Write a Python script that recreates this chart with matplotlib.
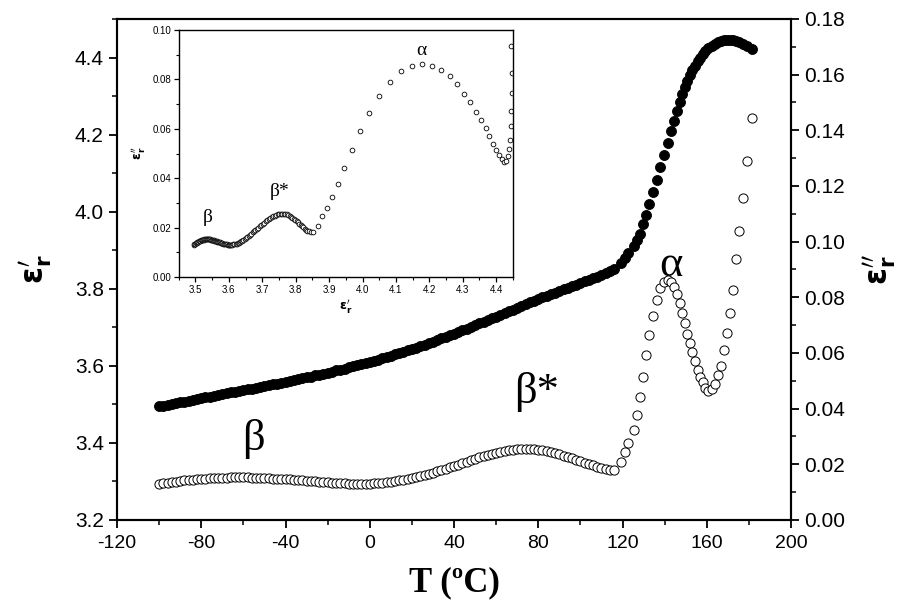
import numpy as np
import matplotlib.pyplot as plt
from matplotlib.ticker import MultipleLocator, FormatStrFormatter

# temperature scan (ºC)
temp = [-100, -98, -96, -94, -92, -90, -88, -86, -84, -82,
        -80, -78, -76, -74, -72, -70, -68, -66, -64, -62,
        -60, -58, -56, -54, -52, -50, -48, -46, -44, -42,
        -40, -38, -36, -34, -32, -30, -28, -26, -24, -22,
        -20, -18, -16, -14, -12, -10, -8, -6, -4, -2,
        0, 2, 4, 6, 8, 10, 12, 14, 16, 18,
        20, 22, 24, 26, 28, 30, 32, 34, 36, 38,
        40, 42, 44, 46, 48, 50, 52, 54, 56, 58,
        60, 62, 64, 66, 68, 70, 72, 74, 76, 78,
        80, 82, 84, 86, 88, 90, 92, 94, 96, 98,
        100, 102, 104, 106, 108, 110, 112, 114, 116,
        119.5, 121.0, 122.5, 125.3, 127.0, 128.2, 129.6, 131.2, 132.8, 134.4,
        136.2, 137.9, 139.6, 141.4, 143.0, 144.4, 145.8, 147.1, 148.4, 149.6,
        150.8, 152.0, 153.2, 154.4, 155.6, 156.8, 158.0, 159.3, 160.7, 162.3,
        163.9, 165.4, 166.8, 168.3, 169.7, 171.0, 172.4, 173.8, 175.4, 177.1,
        179.1, 181.5]

# real permittivity eps_r'
eps_real = [3.495, 3.497, 3.499, 3.501, 3.503, 3.505, 3.507, 3.510, 3.512, 3.514,
            3.516, 3.518, 3.520, 3.522, 3.524, 3.526, 3.529, 3.531, 3.533, 3.535,
            3.537, 3.539, 3.541, 3.543, 3.545, 3.547, 3.549, 3.552, 3.554, 3.556,
            3.558, 3.560, 3.563, 3.565, 3.568, 3.570, 3.572, 3.575, 3.577, 3.580,
            3.582, 3.585, 3.588, 3.590, 3.593, 3.596, 3.599, 3.601, 3.604, 3.607,
            3.610, 3.613, 3.616, 3.620, 3.623, 3.626, 3.630, 3.633, 3.636, 3.640,
            3.643, 3.647, 3.651, 3.655, 3.659, 3.663, 3.667, 3.671, 3.675, 3.679,
            3.683, 3.687, 3.692, 3.696, 3.701, 3.705, 3.710, 3.714, 3.719, 3.723,
            3.728, 3.733, 3.737, 3.742, 3.746, 3.751, 3.756, 3.760, 3.765, 3.769,
            3.774, 3.778, 3.782, 3.786, 3.790, 3.795, 3.799, 3.803, 3.807, 3.811,
            3.815, 3.819, 3.823, 3.827, 3.831, 3.835, 3.840, 3.846, 3.852,
            3.866, 3.880, 3.893, 3.910, 3.926, 3.943, 3.967, 3.991, 4.020, 4.050,
            4.083, 4.115, 4.147, 4.178, 4.209, 4.236, 4.262, 4.284, 4.305, 4.323,
            4.340, 4.355, 4.368, 4.379, 4.390, 4.400, 4.408, 4.417, 4.424, 4.430,
            4.435, 4.439, 4.442, 4.445, 4.445, 4.446, 4.446, 4.443, 4.440, 4.436,
            4.430, 4.423]

# loss eps_r''
eps_imag = [0.0130, 0.0132, 0.0134, 0.0136, 0.0138, 0.0140, 0.0142, 0.0144, 0.0145, 0.0147,
            0.0148, 0.0149, 0.0150, 0.0151, 0.0151, 0.0152, 0.0152, 0.0153, 0.0153, 0.0153,
            0.0153, 0.0153, 0.0152, 0.0152, 0.0151, 0.0151, 0.0150, 0.0149, 0.0148, 0.0147,
            0.0147, 0.0146, 0.0144, 0.0143, 0.0142, 0.0141, 0.0140, 0.0139, 0.0137, 0.0136,
            0.0135, 0.0134, 0.0133, 0.0132, 0.0132, 0.0131, 0.0131, 0.0130, 0.0130, 0.0130,
            0.0131, 0.0132, 0.0133, 0.0134, 0.0135, 0.0137, 0.0139, 0.0142, 0.0144, 0.0147,
            0.0150, 0.0154, 0.0158, 0.0162, 0.0166, 0.0170, 0.0175, 0.0180, 0.0184, 0.0189,
            0.0194, 0.0199, 0.0205, 0.0210, 0.0215, 0.0220, 0.0225, 0.0229, 0.0234, 0.0238,
            0.0242, 0.0245, 0.0248, 0.0251, 0.0253, 0.0255, 0.0256, 0.0256, 0.0256, 0.0255,
            0.0253, 0.0251, 0.0248, 0.0244, 0.0240, 0.0236, 0.0231, 0.0226, 0.0221, 0.0216,
            0.0211, 0.0206, 0.0201, 0.0196, 0.0192, 0.0188, 0.0184, 0.0181, 0.0180,
            0.0207, 0.0245, 0.0278, 0.0324, 0.0377, 0.0441, 0.0513, 0.0593, 0.0665, 0.0733,
            0.0790, 0.0834, 0.0856, 0.0863, 0.0856, 0.0838, 0.0812, 0.0780, 0.0743, 0.0707,
            0.0669, 0.0637, 0.0603, 0.0570, 0.0539, 0.0514, 0.0494, 0.0476, 0.0465, 0.0469,
            0.0490, 0.0520, 0.0554, 0.0610, 0.0673, 0.0744, 0.0827, 0.0936, 0.1040, 0.1157,
            0.1290, 0.1445]

sans = ['Liberation Sans', 'DejaVu Sans']
serif = ['Liberation Serif', 'DejaVu Serif']
plt.rcParams['font.family'] = sans
plt.rcParams['mathtext.fontset'] = 'dejavusans'
plt.rcParams['axes.unicode_minus'] = False

fig = plt.figure(figsize=(9.03, 6.14), dpi=100)
ax = fig.add_axes([0.1296, 0.1531, 0.7464, 0.8160])
ax2 = ax.twinx()

ax.plot(temp, eps_real, 'o', mfc='black', mec='black', ms=7.2, mew=0.6, zorder=3)
ax2.plot(temp, eps_imag, 'o', mfc='white', mec='black', ms=6.6, mew=0.7, zorder=3)

ax.set_xlim(-120, 200)
ax.set_ylim(3.2, 4.5)
ax2.set_ylim(0, 0.18)

ax.xaxis.set_major_locator(MultipleLocator(40))
ax.xaxis.set_minor_locator(MultipleLocator(20))
ax.yaxis.set_major_locator(MultipleLocator(0.2))
ax.yaxis.set_minor_locator(MultipleLocator(0.1))
ax.yaxis.set_major_formatter(FormatStrFormatter('%.1f'))
ax2.yaxis.set_major_locator(MultipleLocator(0.02))
ax2.yaxis.set_minor_locator(MultipleLocator(0.01))
ax2.yaxis.set_major_formatter(FormatStrFormatter('%.2f'))

for a in (ax, ax2):
    for s in a.spines.values():
        s.set_linewidth(1.5)
    a.tick_params(which='major', direction='out', length=6, width=1.3, labelsize=15)
    a.tick_params(which='minor', direction='out', length=3.5, width=1.1)
ax.tick_params(axis='x', labelsize=14, pad=5)

ax.set_xlabel('T (ºC)', family=serif, fontweight='bold', fontsize=25, labelpad=10)
ax.set_ylabel(r"$\mathbf{\varepsilon_r'}$", fontsize=22, labelpad=14)
ax2.set_ylabel(r"$\mathbf{\varepsilon_r''}$", fontsize=22, labelpad=12)

ax2.text(-55, 0.029, 'β', family=serif, fontsize=32, ha='center', va='center')
ax2.text(79, 0.046, 'β*', family=serif, fontsize=32, ha='center', va='center')
ax2.text(143, 0.0915, 'α', family=serif, fontsize=32, ha='center', va='center')

# inset: eps'' against eps'
ins = fig.add_axes([0.198, 0.549, 0.370, 0.402])
ins.plot(eps_real, eps_imag, 'o', mfc='white', mec='black', ms=3.4, mew=0.6)
ins.set_xlim(3.45, 4.45)
ins.set_ylim(0, 0.10)
ins.xaxis.set_major_locator(MultipleLocator(0.1))
ins.xaxis.set_minor_locator(MultipleLocator(0.05))
ins.yaxis.set_major_locator(MultipleLocator(0.02))
ins.yaxis.set_minor_locator(MultipleLocator(0.01))
ins.xaxis.set_major_formatter(FormatStrFormatter('%.1f'))
ins.yaxis.set_major_formatter(FormatStrFormatter('%.2f'))
for s in ins.spines.values():
    s.set_linewidth(1.0)
ins.tick_params(which='major', direction='out', length=3.5, width=0.9, labelsize=7, pad=2)
ins.tick_params(which='minor', direction='out', length=2, width=0.8)
ins.set_xlabel(r"$\mathbf{\varepsilon_r'}$", fontsize=9, labelpad=2)
ins.set_ylabel(r"$\mathbf{\varepsilon_r''}$", fontsize=9, labelpad=4)
ins.text(3.536, 0.024, 'β', family=serif, fontsize=14, ha='center', va='center')
ins.text(3.752, 0.0345, 'β*', family=serif, fontsize=14, ha='center', va='center')
ins.text(4.176, 0.0917, 'α', family=serif, fontsize=14, ha='center', va='center')

fig.savefig('out.png', dpi=100)
